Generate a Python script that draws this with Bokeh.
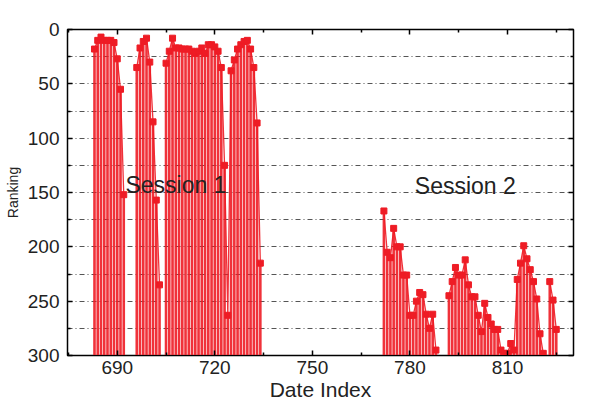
import math
from bokeh.plotting import figure
from bokeh.models import Range1d, FixedTicker, LinearAxis, ColumnDataSource
from bokeh.core.properties import value
from bokeh.embed import file_html
from bokeh.resources import INLINE

# ---- data (date index -> ranking) ----
s1a_dates = list(range(683, 693))
s1a_rank = [18, 10, 7, 10, 10, 10, 12, 27, 55, 152]
s1b_dates = list(range(696, 704))
s1b_rank = [35, 17, 11, 8, 30, 85, 157, 235]
s1c_dates = list(range(705, 735))
s1c_rank = [31, 20, 8, 17, 17, 18, 18, 18, 20, 22, 20, 17, 22, 14, 14, 16, 20, 35, 125, 263,
            38, 28, 18, 14, 11, 10, 18, 35, 86, 215]

s2a_dates = list(range(772, 789))
s2a_rank = [167, 205, 210, 183, 200, 200, 226, 226, 263, 263, 250, 242, 244, 262, 275, 262, 295]
s2b_dates = list(range(792, 822))
s2b_rank = [245, 232, 219, 226, 226, 212, 235, 246, 246, 263, 278, 252, 265, 271, 276, 276, 295,
            298, 298, 289, 295, 230, 215, 199, 211, 221, 232, 248, 280, 298]
s2c_dates = list(range(823, 826))
s2c_rank = [232, 249, 276]

x_major = [690, 720, 750, 780, 810]
x_minor = [675, 705, 735, 765, 795, 825]
y_major = [0, 50, 100, 150, 200, 250, 300]
y_minor = [25, 75, 125, 175, 225, 275]

session_labels = ["Session 1", "Session 2"]
session_x = [692.5, 781.5]
session_y = [143, 144]

groups = [(s1a_dates, s1a_rank), (s1b_dates, s1b_rank), (s1c_dates, s1c_rank),
          (s2a_dates, s2a_rank), (s2b_dates, s2b_rank), (s2c_dates, s2c_rank)]

# line with gaps
lx, ly = [], []
for d, r in groups:
    lx += d + [math.nan]
    ly += r + [math.nan]
all_x = [x for d, _ in groups for x in d]
all_y = [y for _, r in groups for y in r]

RED = "#ee1c25"
FONT = "Liberation Sans"

p = figure(frame_width=506, frame_height=326, output_backend="svg", toolbar_location=None,
           x_range=Range1d(674.7, 830.3), y_range=Range1d(300, 0),
           min_border_left=67, min_border_right=4, min_border_top=29, min_border_bottom=10)
p.background_fill_color = "white"
p.border_fill_color = "white"
p.outline_line_color = "black"
p.outline_line_width = 1.5

src = ColumnDataSource(dict(x=all_x, y=all_y, y0=[300] * len(all_x)))
p.segment(x0="x", y0="y0", x1="x", y1="y", source=src, line_color=RED, line_width=2.6, line_alpha=0.9)
p.line(lx, ly, line_color=RED, line_width=1.3, line_alpha=0.9)
p.scatter("x", "y", source=src, marker="square", size=6, fill_color=RED, line_color=RED)

p.text(x=session_x, y=session_y, text=session_labels, text_font=value(FONT),
       text_font_size="23px", text_baseline="middle", text_align="left", text_color="#222222")

# grid
p.xgrid.grid_line_color = None
p.ygrid.ticker = FixedTicker(ticks=y_major + y_minor)
p.ygrid.grid_line_color = "#555555"
p.ygrid.grid_line_dash = "5 3 1 3"
p.ygrid.grid_line_width = 1

def style_axis(ax, ticks, minor, labels=True):
    ax.ticker = FixedTicker(ticks=ticks, minor_ticks=minor)
    ax.major_tick_in = 5
    ax.major_tick_out = 0
    ax.minor_tick_in = 3
    ax.minor_tick_out = 0
    ax.axis_line_color = "black"
    ax.major_tick_line_color = "black"
    ax.minor_tick_line_color = "black"
    ax.major_tick_line_width = 1.5
    ax.minor_tick_line_width = 1.5
    ax.major_label_text_font = FONT
    ax.major_label_text_font_size = "19px"
    ax.major_label_text_color = "#222222"
    if not labels:
        ax.major_label_overrides = {t: "" for t in ticks}
        ax.major_label_standoff = 0

xa = p.xaxis[0]
style_axis(xa, x_major, x_minor)
xa.axis_label = "Date Index"
xa.axis_label_text_font = FONT
xa.axis_label_text_font_size = "21px"
xa.axis_label_text_font_style = "normal"
xa.axis_label_text_color = "#222222"
xa.axis_label_standoff = 1
xa.major_label_standoff = 5

ya = p.yaxis[0]
style_axis(ya, y_major, y_minor)
ya.axis_label = "Ranking"
ya.axis_label_text_font = FONT
ya.axis_label_text_font_size = "14px"
ya.axis_label_text_font_style = "normal"
ya.axis_label_text_color = "#222222"
ya.axis_label_standoff = 4
ya.major_label_standoff = 8

top = LinearAxis()
style_axis(top, x_major, x_minor, labels=False)
p.add_layout(top, "above")
right = LinearAxis()
style_axis(right, y_major, y_minor, labels=False)
p.add_layout(right, "right")

open("out.html", "w").write(file_html(p, INLINE))
